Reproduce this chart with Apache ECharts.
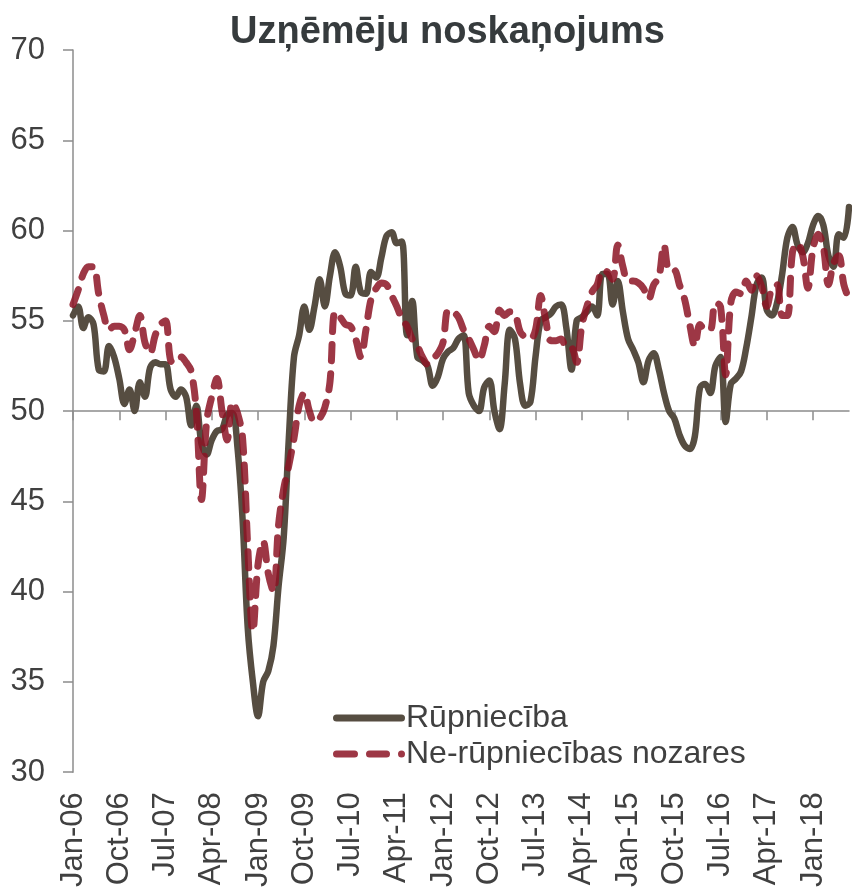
<!DOCTYPE html>
<html>
<head>
<meta charset="utf-8">
<script src="https://cdn.jsdelivr.net/npm/echarts@6/dist/echarts.min.js"></script>
<style>
  html, body { margin: 0; padding: 0; background: #fff; }
  #chart { width: 852px; height: 890px; }
</style>
</head>
<body>
<div id="chart"></div>
<script>
  // mēneši Jan-06 ... Aug-18
  const monthNames = ['Jan', 'Feb', 'Mar', 'Apr', 'May', 'Jun', 'Jul', 'Aug', 'Sep', 'Oct', 'Nov', 'Dec']
  const months = []
  for (let y = 6; y <= 18; y++) {
    for (let m = 0; m < 12; m++) {
      if (y === 18 && m > 7) break
      months.push(monthNames[m] + '-' + String(y).padStart(2, '0'))
    }
  }

  const yTicks = [30, 35, 40, 45, 50, 55, 60, 65, 70]

  // Rūpniecība
  const rupnieciba = [
    55.3, 55.8, 54.6, 55.2, 54.8, 52.3, 52.2, 53.6, 53.0, 51.8,
    50.4, 51.2, 50.0, 51.6, 50.8, 52.4, 52.7, 52.6, 52.6, 51.2,
    50.8, 51.2, 50.8, 49.2, 50.3, 48.2, 47.6, 48.4, 48.9, 49.0,
    49.8, 49.9, 48.0, 44.0, 38.0, 35.0, 33.1, 35.0, 35.6, 37.0,
    40.3, 43.0, 48.5, 53.0, 54.2, 55.8, 54.5, 55.8, 57.3, 55.8,
    57.5, 58.8, 58.0, 56.5, 56.4, 58.0, 56.6, 56.5, 57.7, 57.4,
    58.5, 59.7, 59.9, 59.3, 59.4, 54.2, 56.1, 53.0, 52.8, 52.5,
    51.4, 51.9, 52.9, 53.3, 53.5, 54.0, 54.2, 51.0, 50.3, 50.0,
    51.3, 51.7, 50.0, 49.0, 51.5, 54.5, 54.0, 51.5, 50.3, 50.5,
    53.0, 55.0, 55.2, 55.4, 55.8, 55.9, 54.6, 52.3, 55.0, 55.2,
    55.5, 55.8, 55.3, 57.6, 57.6, 55.9, 57.2, 55.5, 54.0, 53.4,
    52.7, 51.6, 52.8, 53.2, 52.3, 51.0, 50.0, 49.6, 48.7, 48.1,
    47.9, 48.6, 51.3, 51.5, 51.0, 52.5, 53.0, 49.4, 51.5, 51.8,
    52.2, 53.5, 55.2, 57.0, 57.4, 55.6, 55.3, 56.0, 57.6, 59.6,
    60.2, 59.2, 58.8, 59.3, 60.3, 60.8, 60.3, 58.6, 58.0, 59.8,
    59.6, 61.3
  ]

  // Ne-rūpniecības nozares
  const neRupnieciba = [
    55.9, 56.7, 57.6, 58.0, 58.0, 56.5, 55.3, 54.5, 54.7, 54.7,
    54.5, 53.4, 54.3, 55.3, 53.8, 53.2, 54.2, 54.8, 55.0, 52.8,
    52.7, 53.0, 52.7, 52.2, 50.0, 45.1, 49.4, 50.8, 51.8, 50.0,
    48.4, 50.5, 49.9, 48.5, 42.5, 37.8, 41.5, 42.8, 41.0, 40.0,
    43.7, 45.7, 47.0, 48.5, 50.3, 51.0, 50.0, 49.4, 49.6, 50.2,
    51.6, 55.5, 55.2, 54.8, 54.7, 54.0, 53.0, 54.5, 56.2, 56.8,
    57.1, 57.0, 56.4, 55.8, 55.1, 54.7, 54.0, 53.6, 53.0, 52.6,
    52.9, 53.2, 53.8, 55.6, 55.5, 55.2, 54.5, 54.0, 53.4, 52.8,
    53.6, 54.7, 54.4, 55.6, 55.3, 55.5, 55.4, 54.4, 54.1, 54.0,
    54.5, 56.4, 55.0, 53.9, 53.9, 54.0, 53.5, 53.5, 52.7, 54.7,
    55.8, 56.6, 57.0, 57.8, 57.7, 57.3, 59.2, 58.0, 57.2, 57.2,
    57.1, 56.8, 56.2, 57.0, 57.4, 59.2, 57.8, 57.8, 57.0, 56.2,
    54.8, 53.6, 54.8, 54.5, 54.5, 56.0, 55.8, 52.0, 56.0, 56.6,
    56.5, 57.2, 56.7, 57.5, 56.9, 55.8, 56.8, 57.0, 55.3, 55.3,
    58.8, 59.3, 58.6, 56.8, 59.0, 59.8, 59.1, 57.0, 58.2, 58.6,
    57.0, 56.2
  ]

  const font = 'Liberation Sans, Arial, sans-serif'
  const axisGray = '#8c8c8c'
  const textGray = '#404040'
  const solidColor = '#564d41'
  const dashColor = 'rgba(140,20,36,0.85)'

  // legendas ikonas (72x7)
  const seg = (x0, x1) => 'M' + (x0 + 3.5) + ',0 L' + (x1 - 3.5) + ',0 A3.5,3.5 0 0 1 ' + (x1 - 3.5) + ',7 L' + (x0 + 3.5) + ',7 A3.5,3.5 0 0 1 ' + (x0 + 3.5) + ',0 Z '
  const solidIcon = 'path://' + seg(0, 72)
  const dashIcon = 'path://' + seg(0, 25) + seg(33, 57) + seg(65, 72)

  const myChart = echarts.init(document.getElementById('chart'))
  myChart.setOption({
    animation: false,
    title: {
      text: 'Uzņēmēju noskaņojums',
      left: 225,
      top: 9,
      textStyle: { fontFamily: font, fontSize: 38, fontWeight: 'bold', color: '#363b3d' }
    },
    legend: {
      orient: 'vertical',
      left: 328,
      top: 697,
      itemWidth: 72,
      itemHeight: 7,
      itemGap: 4,
      textStyle: { fontFamily: font, fontSize: 32, color: textGray, padding: [0, 0, 0, -4] },
      data: [
        { name: 'Rūpniecība', icon: solidIcon, itemStyle: { color: solidColor } },
        { name: 'Ne-rūpniecības nozares', icon: dashIcon, itemStyle: { color: dashColor } }
      ]
    },
    grid: { left: 73, right: 3, top: 50, bottom: 117, containLabel: false },
    xAxis: [
      {
        // ass līnija pie 50
        type: 'category',
        data: months,
        boundaryGap: false,
        position: 'bottom',
        offset: -361,
        axisLine: { show: true, lineStyle: { color: axisGray, width: 1.5 } },
        axisTick: { show: true, interval: 8, length: 9, lineStyle: { color: axisGray, width: 1.5 } },
        axisLabel: { show: false },
        splitLine: { show: false }
      },
      {
        // etiķetes apakšā
        type: 'category',
        data: months,
        boundaryGap: false,
        position: 'bottom',
        axisLine: { show: false },
        axisTick: { show: false },
        axisLabel: {
          interval: 8,
          rotate: 90,
          margin: 20,
          fontFamily: font,
          fontSize: 31,
          color: textGray
        },
        splitLine: { show: false }
      }
    ],
    yAxis: {
      type: 'value',
      min: yTicks[0],
      max: yTicks[yTicks.length - 1],
      interval: 5,
      axisLine: { show: true, lineStyle: { color: axisGray, width: 1.5 } },
      axisTick: { show: true, length: 10, lineStyle: { color: axisGray, width: 1.5 } },
      axisLabel: { margin: 28, fontFamily: font, fontSize: 31, color: textGray },
      splitLine: { show: false }
    },
    series: [
      {
        name: 'Rūpniecība',
        type: 'line',
        xAxisIndex: 0,
        data: rupnieciba,
        smooth: 0.35,
        symbol: 'none',
        itemStyle: { color: solidColor },
        lineStyle: { color: solidColor, width: 6.5, cap: 'round', join: 'round' }
      },
      {
        name: 'Ne-rūpniecības nozares',
        type: 'line',
        xAxisIndex: 0,
        data: neRupnieciba,
        smooth: 0.35,
        symbol: 'none',
        itemStyle: { color: dashColor },
        lineStyle: {
          color: dashColor,
          width: 7,
          type: [16, 13],
          cap: 'round',
          join: 'round'
        }
      }
    ]
  })
</script>
</body>
</html>
